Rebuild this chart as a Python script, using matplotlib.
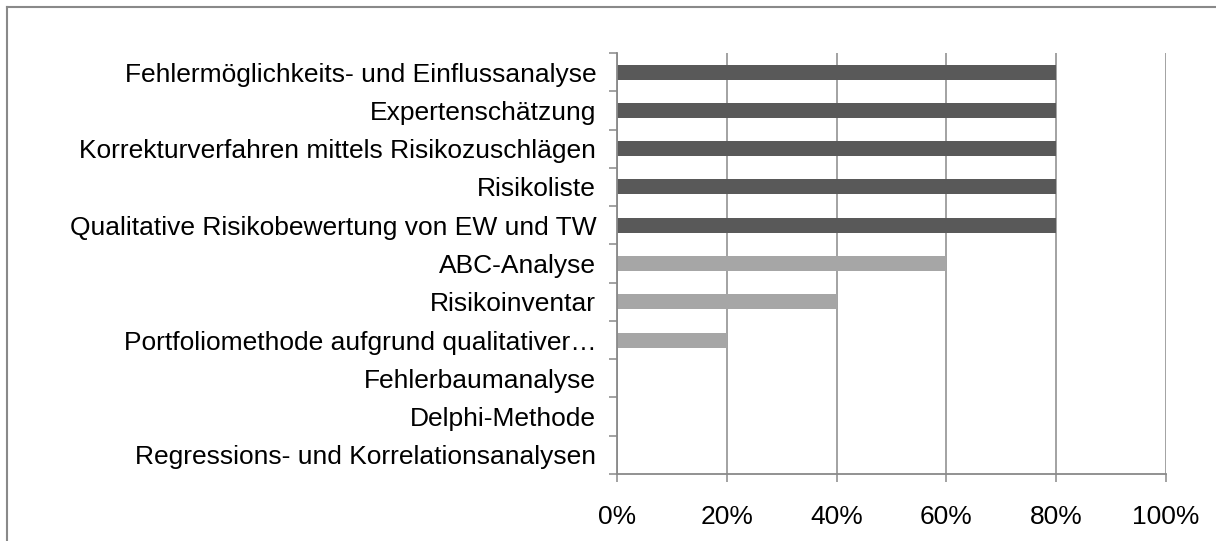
import matplotlib.pyplot as plt
from matplotlib.lines import Line2D
import numpy as np

plt.rcParams['font.family'] = ['Liberation Sans', 'DejaVu Sans']

categories = [
    "Fehlermöglichkeits- und Einflussanalyse",
    "Expertenschätzung",
    "Korrekturverfahren mittels Risikozuschlägen",
    "Risikoliste",
    "Qualitative Risikobewertung von EW und TW",
    "ABC-Analyse",
    "Risikoinventar",
    "Portfoliomethode aufgrund qualitativer…",
    "Fehlerbaumanalyse",
    "Delphi-Methode",
    "Regressions- und Korrelationsanalysen",
]
values = [80, 80, 80, 80, 80, 60, 40, 20, 0, 0, 0]
bar_colors = ["#595959"] * 5 + ["#a6a6a6"] * 6
x_ticks = [0, 20, 40, 60, 80, 100]

GREY = "#898989"

fig = plt.figure(figsize=(12.16, 5.41), dpi=100)
ax = fig.add_axes([617 / 1216, 1 - 474 / 541, 549 / 1216, 421 / 541])

y = np.arange(len(categories))
ax.barh(y, values, height=0.39, color=bar_colors, zorder=3)

ax.set_xlim(0, 100)
ax.set_ylim(len(categories) - 0.5, -0.5)

ax.set_xticks(x_ticks)
ax.set_xticklabels([f"{v}%" for v in x_ticks])
ax.set_yticks(y)
ax.set_yticklabels(categories)
ax.set_yticks(np.arange(-0.5, len(categories), 1), minor=True)

ax.tick_params(axis='y', which='major', length=0, pad=15, labelsize=19)
ax.tick_params(axis='y', which='minor', length=6, width=1.1, color=GREY)
ax.tick_params(axis='x', length=6, width=1.1, color=GREY, pad=16, labelsize=19)

ax.grid(axis='x', color=GREY, linewidth=1.1, zorder=0)
ax.set_axisbelow(True)

for side in ['top', 'right']:
    ax.spines[side].set_visible(False)
for side in ['left', 'bottom']:
    ax.spines[side].set_color(GREY)
    ax.spines[side].set_linewidth(1.3)
    ax.spines[side].set_zorder(4)

# outer chart frame (only top and left visible in the crop)
bx = 7 / 1216
by = 1 - 7 / 541
fig.add_artist(Line2D([bx, 1.01], [by, by], color=GREY, lw=1.5, transform=fig.transFigure))
fig.add_artist(Line2D([bx, bx], [-0.01, by], color=GREY, lw=1.5, transform=fig.transFigure))

fig.savefig("out.png", dpi=100)
